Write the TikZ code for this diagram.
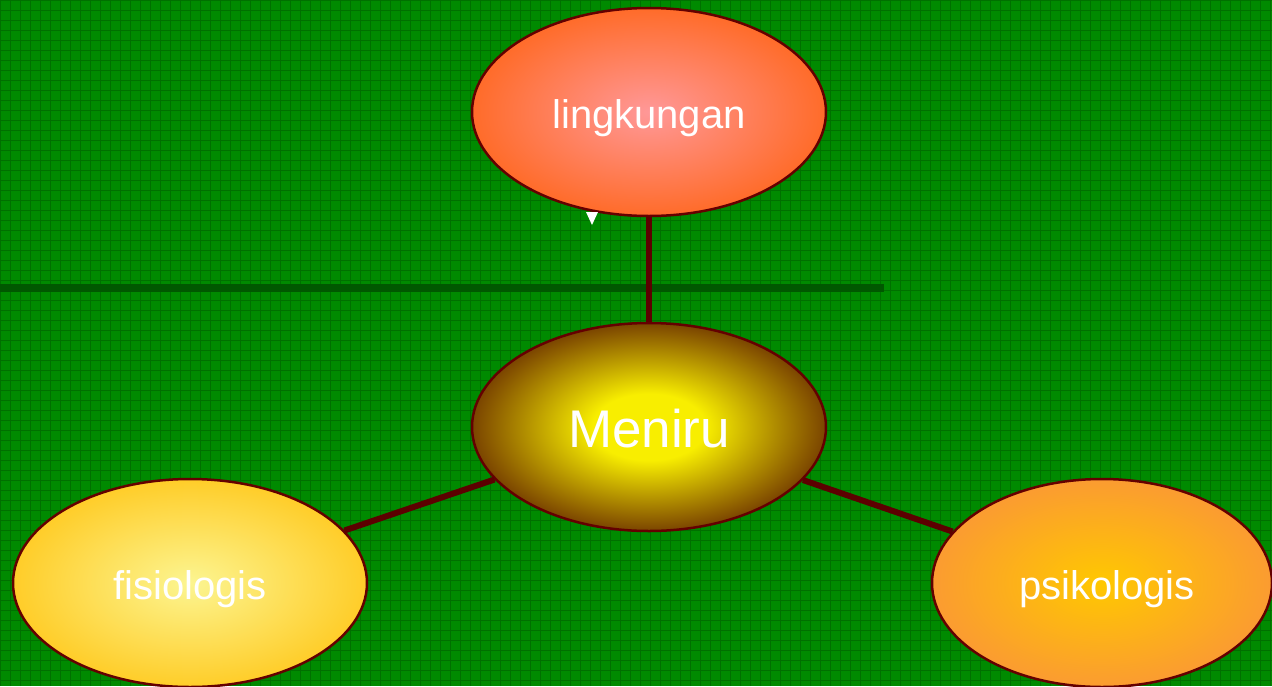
\documentclass[tikz,border=0pt]{standalone}
\usepackage{fontspec}
\setmainfont{Liberation Sans}
\usetikzlibrary{shapes.geometric}
\definecolor{bggreen}{RGB}{0,138,0}
\definecolor{gridgreen}{RGB}{0,112,0}
\definecolor{bargreen}{RGB}{0,88,0}
\definecolor{linkred}{RGB}{92,0,0}
\definecolor{borderred}{RGB}{100,0,0}
\definecolor{lingin}{RGB}{255,152,152}
\definecolor{lingout}{RGB}{255,102,28}
\definecolor{menin}{RGB}{248,238,0}
\definecolor{menout}{RGB}{85,18,0}
\definecolor{fisin}{RGB}{252,245,145}
\definecolor{fisout}{RGB}{255,200,28}
\definecolor{psiin}{RGB}{255,200,0}
\definecolor{psiout}{RGB}{250,150,55}
\pgfdeclareradialshading{lingshade}{\pgfpoint{0bp}{0bp}}{color(0bp)=(lingin); color(28bp)=(lingout); color(50bp)=(lingout)}
\pgfdeclareradialshading{menshade}{\pgfpoint{0bp}{0bp}}{color(0bp)=(menin); color(8bp)=(menin); color(30bp)=(menout); color(50bp)=(menout)}
\pgfdeclareradialshading{fisshade}{\pgfpoint{0bp}{0bp}}{color(0bp)=(fisin); color(28bp)=(fisout); color(50bp)=(fisout)}
\pgfdeclareradialshading{psishade}{\pgfpoint{0bp}{0bp}}{color(0bp)=(psiin); color(28bp)=(psiout); color(50bp)=(psiout)}
\tikzset{
  blob/.style={ellipse, draw=borderred, line width=2.5pt, minimum width=354pt, minimum height=208pt, inner sep=0pt, text=white, font=\fontsize{40}{44}\selectfont, text height=33pt, text depth=1pt},
  link/.style={draw=linkred, line width=6pt}
}
\begin{document}
\begin{tikzpicture}[x=1pt,y=-1pt]
\useasboundingbox (0,0) rectangle (1272,686);
\clip (0,0) rectangle (1272,686);
\fill[bggreen] (0,0) rectangle (1272,686);
\draw[gridgreen, line width=0.8pt, step=10pt] (0,0) grid (1272,686);
\fill[bargreen] (0,284) rectangle (884,292);
\node[blob, shading=lingshade] (ling) at (649,112) {lingkungan};
\node[blob, shading=menshade, font=\fontsize{53}{58}\selectfont, text height=40pt, text depth=0pt] (men) at (649,427) {Meniru};
\node[blob, shading=fisshade] (fis) at (190,583) {fisiologis};
\node[blob, minimum width=340pt, shading=psishade] (psi) at (1102,583) {\hspace{10pt}psikologis};
\draw[link] (ling) -- (men);
\draw[link] (men) -- (fis);
\draw[link] (men) -- (psi);
\fill[white] (586,212) -- (598,212) -- (592,225) -- cycle;
\end{tikzpicture}
\end{document}
